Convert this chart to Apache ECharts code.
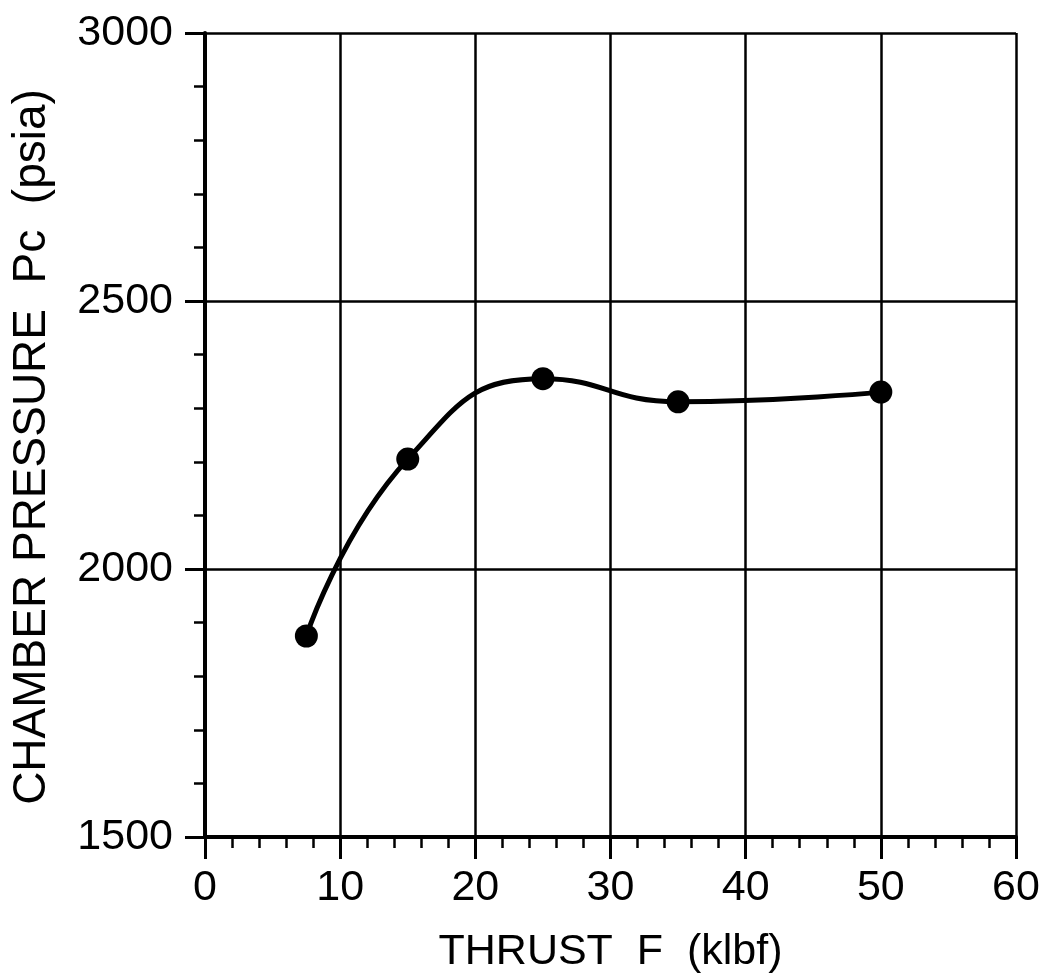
<!DOCTYPE html>
<html>
<head>
<meta charset="utf-8">
<script src="https://cdn.jsdelivr.net/npm/echarts@6/dist/echarts.min.js"></script>
<style>
  html, body { margin: 0; padding: 0; background: #fff; }
  #main { width: 1044px; height: 979px; }
</style>
</head>
<body>
<div id="main"></div>
<script>
// thrust vs chamber pressure
var thrust = [7.5, 15, 25, 35, 50];
var pressure = [1875, 2205, 2355, 2312, 2330];
var xTicks = [0, 10, 20, 30, 40, 50, 60];
var yTicks = [1500, 2000, 2500, 3000];

var chart = echarts.init(document.getElementById('main'));
var font = 'Liberation Sans, Arial, Helvetica, sans-serif';

var points = thrust.map(function (t, i) { return [t, pressure[i]]; });

var option = {
  backgroundColor: '#fff',
  animation: false,
  grid: { left: 205, right: 28, top: 33, bottom: 139 },
  xAxis: {
    type: 'value',
    min: xTicks[0],
    max: xTicks[xTicks.length - 1],
    interval: 10,
    name: 'THRUST  F  (klbf)',
    nameLocation: 'middle',
    nameGap: 94,
    nameTextStyle: { color: '#000', fontSize: 43, fontFamily: font },
    axisLine: { show: true, lineStyle: { color: '#000', width: 4 } },
    axisTick: { show: true, length: 22, lineStyle: { color: '#000', width: 3 } },
    minorTick: { show: true, splitNumber: 5, length: 11, lineStyle: { color: '#000', width: 2.5 } },
    axisLabel: { color: '#000', fontSize: 43, fontFamily: font, margin: 30 },
    splitLine: { show: true, lineStyle: { color: '#000', width: 2.5 } }
  },
  yAxis: {
    type: 'value',
    min: yTicks[0],
    max: yTicks[yTicks.length - 1],
    interval: 500,
    name: 'CHAMBER PRESSURE  Pc  (psia)',
    nameLocation: 'middle',
    nameGap: 150,
    nameTextStyle: { color: '#000', fontSize: 46, fontFamily: font, padding: [0, 24, 0, 0] },
    axisLine: { show: true, lineStyle: { color: '#000', width: 4 } },
    axisTick: { show: true, length: 20, lineStyle: { color: '#000', width: 3 } },
    minorTick: { show: true, splitNumber: 5, length: 11, lineStyle: { color: '#000', width: 2.5 } },
    axisLabel: { color: '#000', fontSize: 43, fontFamily: font, margin: 32,
      formatter: function (v) { return String(v); } },
    splitLine: { show: true, lineStyle: { color: '#000', width: 2.5 } }
  },
  series: [{
    type: 'line',
    data: points,
    smooth: 0.5,
    symbol: 'circle',
    symbolSize: 23,
    itemStyle: { color: '#000' },
    lineStyle: { color: '#000', width: 5 }
  }]
};

chart.setOption(option);
</script>
</body>
</html>
